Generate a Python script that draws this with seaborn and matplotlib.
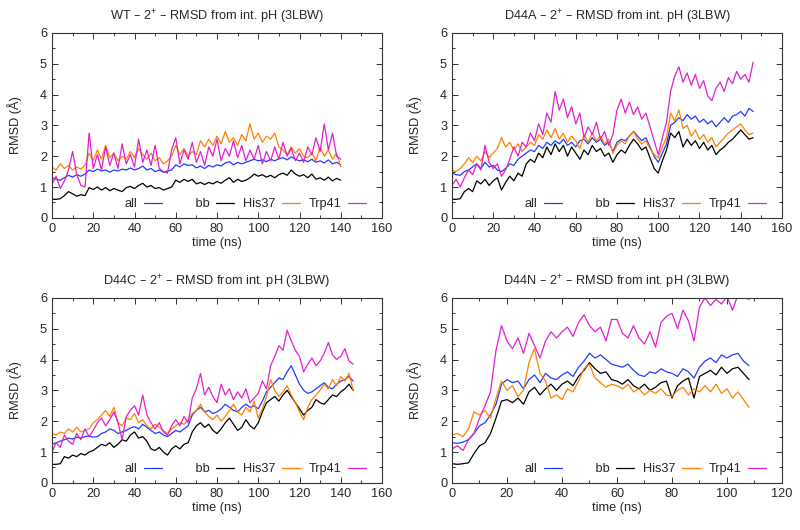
import numpy as np
import pandas as pd
import matplotlib
matplotlib.use("Agg")
import matplotlib.pyplot as plt
import seaborn as sns
from matplotlib.ticker import MultipleLocator

wt_all = [1.30, 1.25, 1.22, 1.30, 1.38, 1.32, 1.40, 1.35, 1.42, 1.55,
          1.50, 1.58, 1.52, 1.55, 1.48, 1.55, 1.52, 1.58, 1.55, 1.62,
          1.55, 1.60, 1.68, 1.55, 1.60, 1.50, 1.55, 1.48, 1.52, 1.55,
          1.72, 1.65, 1.75, 1.70, 1.72, 1.62, 1.68, 1.60, 1.70, 1.65,
          1.72, 1.68, 1.78, 1.82, 1.72, 1.80, 1.75, 1.80, 1.85, 1.90,
          1.85, 1.88, 1.82, 1.90, 1.85, 1.92, 1.95, 1.88, 1.98, 1.90,
          1.85, 1.88, 1.82, 1.90, 1.80, 1.85, 1.78, 1.88, 1.75, 1.80,
          1.72]
wt_bb = [0.60, 0.60, 0.62, 0.72, 0.85, 0.78, 0.70, 0.75, 0.72, 0.98,
         0.92, 1.00, 0.90, 0.98, 0.88, 0.95, 0.90, 0.85, 0.98, 1.02,
         0.95, 1.05, 1.12, 1.00, 1.05, 0.95, 0.98, 0.90, 0.95, 1.00,
         1.22, 1.15, 1.25, 1.18, 1.25, 1.10, 1.15, 1.08, 1.15, 1.10,
         1.18, 1.12, 1.22, 1.30, 1.15, 1.25, 1.18, 1.22, 1.30, 1.42,
         1.35, 1.40, 1.32, 1.38, 1.30, 1.40, 1.45, 1.38, 1.55, 1.42,
         1.35, 1.40, 1.30, 1.42, 1.25, 1.30, 1.22, 1.32, 1.20, 1.28,
         1.22]
wt_his = [1.65, 1.55, 1.75, 1.60, 1.70, 1.55, 1.65, 1.58, 1.70, 2.10,
          1.85, 2.20, 1.90, 2.35, 1.95, 2.10, 1.85, 2.00, 1.90, 2.15,
          1.95, 2.25, 2.05, 1.90, 2.10, 1.85, 1.95, 1.75, 1.85, 2.00,
          2.35, 2.05, 2.25, 2.00, 2.15, 2.05, 2.50, 2.30, 2.55, 2.35,
          2.65, 2.40, 2.80, 2.45, 2.60, 2.35, 2.70, 2.50, 3.05, 2.55,
          2.75, 2.45, 2.65, 2.55, 2.75, 2.30, 2.20, 2.05, 2.30, 2.10,
          2.25, 2.00, 1.95, 2.10, 1.85, 2.30, 2.00, 2.20, 1.90, 2.10,
          1.65]
wt_trp = [1.10, 1.35, 0.95, 1.20, 1.55, 2.15, 1.40, 1.05, 1.00, 2.75,
          1.60, 2.05, 1.55, 2.30, 1.70, 2.10, 1.60, 2.40, 1.75, 2.05,
          1.65, 2.55, 1.80, 2.20, 1.70, 2.35, 1.60, 1.50, 1.45, 2.20,
          2.60, 1.75, 2.20, 1.90, 2.45, 1.80, 2.15, 1.70, 2.30, 2.00,
          2.55, 1.85, 2.25, 2.00, 2.50, 1.95, 2.35, 1.85, 2.20, 1.90,
          2.35, 1.75, 2.15, 1.85, 2.30, 1.90, 2.45, 2.00, 2.25, 1.85,
          2.10, 1.80, 2.30, 2.05, 2.60, 2.15, 3.05, 2.20, 2.75, 2.00,
          1.90]

a_all = [1.45, 1.40, 1.38, 1.50, 1.55, 1.65, 1.75, 1.60, 1.80, 1.65,
         1.70, 1.55, 1.50, 1.60, 1.75, 1.70, 1.90, 2.00, 2.10, 2.20,
         2.15, 2.35, 2.25, 2.45, 2.35, 2.50, 2.40, 2.55, 2.35, 2.45,
         2.30, 2.50, 2.55, 2.40, 2.60, 2.45, 2.55, 2.35, 2.45, 2.15,
         2.45, 2.55, 2.50, 2.65, 2.80, 2.65, 2.50, 2.60, 2.30, 2.00,
         1.80, 2.10, 2.40, 3.00, 3.10, 3.25, 3.15, 3.35, 3.20, 3.30,
         3.10, 3.20, 3.05, 3.15, 2.95, 3.10, 3.25, 3.10, 3.30, 3.35,
         3.45, 3.30, 3.55, 3.45]
a_bb = [0.60, 0.60, 0.62, 0.85, 0.95, 0.85, 1.20, 1.10, 1.25, 1.05,
        1.20, 1.30, 0.90, 1.15, 1.35, 1.20, 1.45, 1.35, 1.75, 1.90,
        1.80, 2.10, 1.95, 2.30, 2.05, 2.40, 2.15, 2.35, 2.00, 2.30,
        2.10, 1.90, 2.20, 2.05, 2.35, 2.15, 2.25, 2.00, 2.10, 1.80,
        2.05, 2.20, 2.10, 2.35, 2.55, 2.40, 2.20, 2.30, 1.95, 1.60,
        1.45, 1.85, 2.20, 2.75, 2.60, 2.80, 2.30, 2.55, 2.35, 2.50,
        2.25, 2.45, 2.20, 2.35, 2.05, 2.20, 2.30, 2.45, 2.55, 2.70,
        2.85, 2.70, 2.55, 2.60]
a_his = [1.55, 1.50, 1.60, 1.75, 1.95, 1.80, 2.00, 1.85, 2.15, 1.95,
         2.10, 2.25, 2.60, 2.30, 2.45, 2.20, 2.40, 2.15, 2.30, 2.45,
         2.35, 2.70, 2.55, 2.85, 2.60, 2.90, 2.55, 2.75, 2.45, 2.65,
         2.50, 2.25, 2.70, 2.45, 2.75, 2.50, 2.65, 2.40, 2.55, 2.10,
         2.35, 2.50, 2.40, 2.65, 2.80, 2.55, 2.40, 2.50, 2.25, 2.05,
         1.95, 2.30, 2.60, 3.40, 3.15, 3.50, 2.90, 3.00, 2.65, 2.85,
         2.55, 2.70, 2.45, 2.60, 2.30, 2.45, 2.60, 2.75, 2.85, 2.95,
         3.05, 2.85, 2.70, 2.75]
a_trp = [1.05, 1.25, 1.00, 1.30, 1.55, 1.40, 1.75, 1.55, 2.35, 1.80,
         1.60, 1.75, 1.35, 1.55, 1.90, 2.30, 2.00, 2.45, 2.30, 2.75,
         2.50, 3.05, 2.70, 3.40, 3.10, 4.10, 3.50, 3.85, 3.25, 3.60,
         3.05, 3.40, 2.60, 2.95, 2.70, 3.10, 2.55, 2.80, 2.35, 2.70,
         3.50, 3.85, 3.40, 3.75, 3.35, 3.60, 3.20, 3.40, 2.95, 2.50,
         2.05, 2.60, 3.10, 4.10, 4.60, 4.90, 4.40, 4.70, 4.30, 4.65,
         4.20, 4.45, 3.95, 3.80, 4.20, 4.40, 4.10, 4.55, 4.35, 4.75,
         4.50, 4.65, 4.40, 5.05]

c_all = [1.25, 1.30, 1.35, 1.40, 1.45, 1.42, 1.48, 1.45, 1.50, 1.52,
         1.48, 1.50, 1.60, 1.65, 1.75, 1.70, 1.60, 1.65, 1.70, 1.78,
         1.82, 1.75, 1.90, 1.80, 1.70, 1.60, 1.65, 1.55, 1.50, 1.60,
         1.70, 1.65, 1.75, 1.85, 2.20, 2.35, 2.45, 2.30, 2.35, 2.25,
         2.30, 2.40, 2.55, 2.45, 2.35, 2.30, 2.45, 2.55, 2.45, 2.50,
         2.40, 2.65, 2.95, 3.10, 3.25, 3.40, 3.35, 3.60, 3.80, 3.50,
         3.20, 3.00, 2.90, 2.95, 3.05, 3.15, 3.25, 3.10, 3.05, 3.20,
         3.30, 3.35, 3.45, 3.30]
c_bb = [0.60, 0.60, 0.62, 0.85, 0.80, 0.90, 0.85, 0.95, 0.90, 1.00,
        1.05, 1.15, 1.25, 1.20, 1.30, 1.15, 1.25, 1.40, 1.35, 1.55,
        1.65, 1.45, 1.50, 1.35, 1.10, 1.05, 1.15, 1.00, 0.90, 1.10,
        1.20, 1.10, 1.25, 1.30, 1.65, 1.85, 1.95, 1.80, 1.90, 1.70,
        1.60, 1.75, 1.95, 2.10, 1.90, 1.70, 1.80, 2.05, 1.85, 1.75,
        1.95, 2.30, 2.60, 2.70, 2.80, 2.65, 2.85, 3.00, 2.80, 2.60,
        2.40, 2.20, 2.35, 2.45, 2.70, 2.60, 2.55, 2.70, 2.85, 2.80,
        2.95, 3.05, 3.20, 3.00]
c_his = [1.60, 1.55, 1.65, 1.60, 1.75, 1.65, 1.80, 1.65, 1.70, 1.75,
         1.95, 2.05, 2.20, 2.35, 2.15, 2.45, 1.95, 1.85, 2.10, 2.05,
         2.25, 1.95, 2.05, 1.85, 1.75, 1.90, 1.80, 1.70, 1.60, 1.75,
         1.85, 1.95, 1.90, 2.05, 2.25, 2.35, 2.55, 2.30, 2.15, 2.05,
         2.20, 2.00, 2.15, 2.35, 2.55, 2.30, 2.20, 2.45, 2.30, 2.65,
         2.10, 2.40, 2.80, 3.35, 3.00, 2.80, 2.95, 3.15, 2.85, 2.60,
         2.30, 2.05, 2.45, 2.70, 2.85, 3.00, 3.20, 3.05, 3.35, 3.15,
         3.45, 3.30, 3.55, 3.00]
c_trp = [1.00, 1.30, 1.15, 1.55, 1.35, 1.25, 1.60, 1.40, 1.75, 1.50,
         1.70, 1.95, 2.10, 1.85, 2.05, 2.30, 1.95, 1.40, 2.15, 2.35,
         2.50, 2.20, 2.85, 2.20, 1.95, 1.75, 1.95, 1.65, 1.55, 1.85,
         2.05, 1.85, 2.15, 1.95, 2.75, 3.05, 3.55, 2.85, 3.10, 2.80,
         2.60, 3.20, 2.85, 3.05, 2.70, 2.95, 2.75, 3.05, 2.60, 2.75,
         2.90, 3.30, 3.05, 3.80, 4.10, 4.45, 4.30, 4.95, 4.60, 4.30,
         4.10, 3.60, 3.85, 4.05, 3.80, 3.95, 4.20, 4.55, 4.15, 4.00,
         4.10, 4.35, 3.95, 3.85]

n_all = [1.30, 1.28, 1.32, 1.40, 1.60, 1.85, 1.95, 2.20, 2.55, 3.20,
         3.35, 3.25, 3.30, 3.05, 3.35, 3.50, 3.25, 3.55, 3.40, 3.35,
         3.50, 3.60, 3.45, 3.75, 3.95, 4.20, 4.05, 4.15, 4.00, 3.85,
         3.80, 3.75, 3.85, 3.65, 3.50, 3.45, 3.60, 3.55, 3.70, 3.60,
         3.55, 3.45, 3.70, 3.60, 3.40, 3.75, 3.95, 4.05, 3.90, 4.15,
         4.05, 4.15, 4.20, 3.95, 3.80]
n_bb = [0.62, 0.60, 0.62, 0.65, 0.95, 1.20, 1.30, 1.60, 2.10, 2.65,
        2.70, 2.60, 2.75, 2.55, 2.95, 3.10, 2.85, 3.05, 3.20, 3.00,
        3.20, 3.30, 3.15, 3.45, 3.65, 3.90, 3.70, 3.55, 3.60, 3.35,
        3.30, 3.20, 3.35, 3.15, 3.05, 3.20, 3.00, 3.10, 3.25, 3.30,
        2.75, 3.15, 3.30, 3.40, 2.75, 3.45, 3.55, 3.65, 3.50, 3.75,
        3.55, 3.70, 3.75, 3.55, 3.35]
n_his = [1.55, 1.60, 1.50, 1.75, 2.30, 2.20, 2.35, 2.10, 2.75, 3.30,
         3.00, 3.15, 2.80, 3.00, 3.90, 4.35, 3.55, 3.30, 2.75, 2.85,
         2.70, 3.05, 2.95, 3.30, 3.70, 3.85, 3.40, 3.25, 3.10, 3.20,
         3.15, 3.05, 3.20, 2.95, 3.05, 2.85, 3.00, 2.90, 3.05, 2.85,
         2.80, 3.00, 3.10, 2.85, 3.05, 2.95, 3.15, 2.95, 3.20, 2.90,
         3.05, 2.75, 2.95, 2.70, 2.45]
n_trp = [1.10, 1.20, 1.05, 1.40, 1.60, 2.10, 2.50, 2.95, 4.30, 5.10,
         4.60, 4.35, 4.70, 4.20, 4.85, 4.45, 4.05, 4.60, 4.90, 4.70,
         4.90, 5.05, 4.75, 5.20, 5.45, 5.10, 4.90, 5.05, 4.60, 5.30,
         5.30, 4.85, 4.70, 5.10, 4.70, 4.50, 4.90, 4.40, 5.20, 5.40,
         5.50, 5.00, 5.60, 5.25, 4.60, 5.70, 6.00, 5.75, 5.95, 5.80,
         6.05, 5.60, 6.10, 6.05, 5.95]

labels = ["all", "bb", "His37", "Trp41"]
# gnuplot-style legend: text is right-aligned in equal-width columns
legend_text = ["all", "       bb", "His37", "Trp41"]
colors = ["#1f3cff", "#000000", "#ff8000", "#e020d0"]

panels = [
    ("WT", [wt_all, wt_bb, wt_his, wt_trp], 160),
    ("D44A", [a_all, a_bb, a_his, a_trp], 160),
    ("D44C", [c_all, c_bb, c_his, c_trp], 160),
    ("D44N", [n_all, n_bb, n_his, n_trp], 120),
]

sns.set_style("ticks")
plt.rcParams["font.family"] = ["Liberation Sans", "DejaVu Sans"]
plt.rcParams["mathtext.default"] = "regular"
fs = 9.2

fig = plt.figure(figsize=(8, 5.3), dpi=100)
pos = [(0.065, 0.589), (0.565, 0.589), (0.065, 0.089), (0.565, 0.089)]

for (name, series, xmax), (x0, y0) in zip(panels, pos):
    ax = fig.add_axes([x0, y0, 0.4125, 0.349])
    rows = []
    for lab, vals in zip(labels, series):
        t = np.arange(len(vals)) * 2.0
        rows.append(pd.DataFrame({"time": t, "rmsd": vals, "series": lab}))
    df = pd.concat(rows, ignore_index=True)
    sns.lineplot(data=df, x="time", y="rmsd", hue="series", hue_order=labels,
                 palette=colors, estimator=None, lw=0.9, ax=ax)
    ax.set_xlim(0, xmax)
    ax.set_ylim(0, 6)
    ax.xaxis.set_major_locator(MultipleLocator(20))
    ax.xaxis.set_minor_locator(MultipleLocator(10))
    ax.yaxis.set_major_locator(MultipleLocator(1))
    ax.yaxis.set_minor_locator(MultipleLocator(0.5))
    ax.tick_params(which="both", direction="in", top=True, right=True,
                   labelsize=fs, color="#333333")
    ax.tick_params(which="major", length=4, width=0.7)
    ax.tick_params(which="minor", length=2.5, width=0.7)
    for s in ax.spines.values():
        s.set_color("#333333")
        s.set_linewidth(0.8)
    ax.set_xlabel("time (ns)", fontsize=fs, labelpad=2)
    ax.set_ylabel("RMSD (Å)", fontsize=fs, labelpad=13)
    ax.set_title(name + " – 2$^{+}$ – RMSD from int. pH (3LBW)",
                 fontsize=fs, pad=9)
    h, l = ax.get_legend_handles_labels()
    ax.legend(h, legend_text, ncol=4, loc="lower right",
              bbox_to_anchor=(0.985, -0.02), frameon=False, markerfirst=False,
              fontsize=fs, handlelength=1.4, columnspacing=0.7,
              handletextpad=0.5)

fig.savefig("out.png", dpi=100)
